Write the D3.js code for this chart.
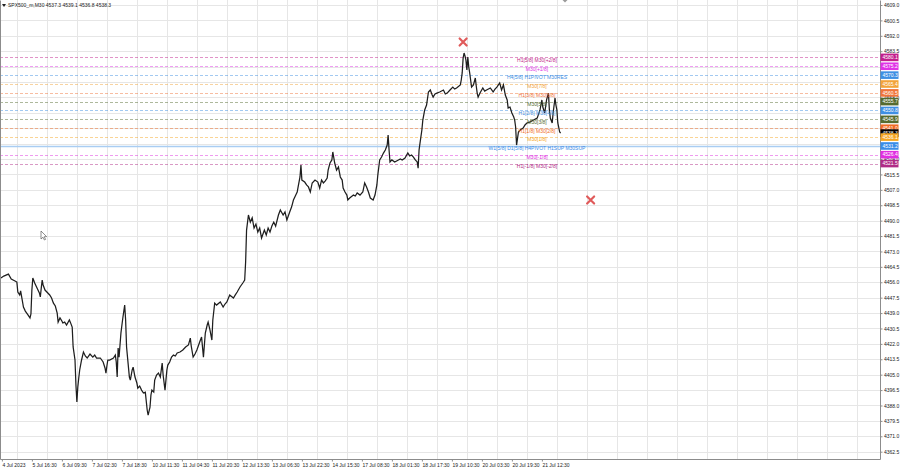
<!DOCTYPE html>
<html><head><meta charset="utf-8">
<script src="https://cdn.jsdelivr.net/npm/d3@7"></script>
<style>
body{margin:0;background:#fff;}
svg{display:block;font-family:"Liberation Sans",Arial,sans-serif;}
</style>
</head><body>
<svg id="c" width="900" height="468"></svg>
<script>
// ---------- data ----------
const chartTitle = "SPX500_m,M30  4537.3 4539.1 4536.8 4538.3";
const barNo = [1,4,9,12,16,18,19,21,22,25,27,30,32,33,34,35,37,39,42,43,44,45,46,48,51,53,55,57,59,61,62,64,66,67,69,71,74,75,77,78,80,81,82,83,84,85,87,89,91,93,96,99,101,103,107,110,112,113,114,115,117,121,123,124,125,126,127,129,131,133,134,135,138,139,141,142,144,146,147,149,151,153,155,157,158,160,161,162,164,165,167,169,171,173,174,176,177,178,179,181,183,185,187,189,192,195,198,201,203,204,206,208,210,213,215,217,219,221,222,224,226,227,229,231,235,238,240,242,245,249,251,253,256,259,261,262,263,265,267,269,271,273,275,277,279,282,284,286,288,290,292,294,297,299,302,304,306,309,311,313,315,317,318,320,321,322,325,327,329,331,333,336,339,341,343,345,347,349,350,352,354,355,357,359,361,363,365,366,368,370,371,373,377,379,381,384,387,389,391,393,395,398,400,402,403,405,407,409,411,413,414,415,416,418,421,425,427,429,432,435,437,439,441,443,445,446,447,448,450,451,453,455,457,459,461,462,464,466,469,473,475,477,480,483,485,487,491,492,493,494,495,496,497,498,499,500,501,502,503,505,507,508,509,510,512,515,517,519,523,526,528,530,533,535,537,539,541,542,544,546,548,549,550,551,553,555,558,560,562,565,569,571,573,576,578,579,581,583,585,586,587,589,590,592,593,594,595,597,598];
const closePrice = [4458.3,4459.4,4460.5,4457.8,4456.7,4456.1,4450.6,4449.0,4451.2,4442.3,4440.1,4437.9,4436.3,4438.5,4451.7,4458.3,4455.6,4453.4,4450.1,4447.9,4452.8,4457.2,4454.5,4451.7,4450.1,4449.0,4447.3,4444.5,4442.9,4439.0,4434.0,4436.3,4434.6,4433.5,4434.0,4432.4,4435.2,4434.0,4431.3,4420.3,4413.1,4399.3,4389.9,4398.2,4403.2,4407.6,4413.1,4417.5,4415.3,4414.2,4416.4,4414.7,4415.8,4414.2,4414.2,4412.0,4408.7,4405.9,4409.8,4413.1,4413.1,4414.2,4415.8,4412.0,4403.7,4419.7,4414.7,4428.0,4436.3,4443.4,4435.2,4420.3,4403.7,4402.0,4407.6,4409.2,4403.7,4400.4,4397.6,4398.7,4396.5,4394.9,4395.4,4385.5,4382.7,4387.1,4393.8,4396.5,4395.4,4402.0,4404.8,4405.9,4403.7,4411.4,4404.8,4396.5,4402.0,4407.6,4410.3,4412.0,4414.7,4415.8,4415.3,4417.0,4417.5,4418.6,4420.3,4421.4,4425.2,4420.8,4414.7,4416.4,4418.6,4423.0,4425.8,4414.7,4428.0,4432.4,4434.0,4429.6,4424.1,4435.2,4444.5,4443.4,4445.1,4442.3,4444.0,4445.1,4449.0,4447.3,4449.0,4450.6,4453.4,4455.6,4457.2,4467.2,4484.8,4493.1,4489.2,4491.5,4485.9,4488.1,4483.7,4485.9,4480.4,4484.8,4482.1,4485.9,4483.7,4487.0,4489.2,4487.0,4493.1,4495.9,4493.1,4494.8,4490.4,4494.8,4497.5,4501.4,4503.6,4505.8,4508.6,4514.1,4520.7,4512.4,4511.3,4509.7,4508.6,4505.8,4510.8,4512.4,4511.3,4508.0,4512.4,4510.8,4511.9,4513.5,4517.9,4521.8,4523.5,4527.9,4521.8,4517.9,4519.6,4514.1,4512.4,4508.0,4505.8,4504.1,4501.4,4502.5,4504.1,4503.6,4505.3,4504.1,4505.8,4510.8,4508.6,4505.8,4502.5,4501.4,4504.1,4509.7,4515.2,4523.5,4525.1,4527.3,4529.0,4531.7,4537.3,4529.0,4522.4,4523.5,4522.4,4523.5,4524.0,4523.5,4524.6,4527.3,4525.7,4526.2,4525.1,4523.5,4522.4,4519.0,4529.0,4532.8,4540.0,4545.5,4551.1,4553.8,4561.0,4562.1,4559.3,4558.2,4559.9,4560.4,4561.0,4562.1,4559.9,4560.4,4562.1,4563.7,4562.6,4563.2,4564.9,4567.6,4571.5,4579.7,4582.5,4580.9,4578.6,4573.1,4580.3,4574.8,4571.5,4567.6,4563.7,4564.9,4568.7,4564.3,4560.4,4558.2,4560.4,4563.2,4561.5,4562.1,4563.2,4561.0,4562.6,4563.7,4566.0,4562.1,4564.9,4559.3,4556.6,4552.2,4552.7,4549.4,4547.2,4545.5,4541.7,4531.7,4538.9,4540.0,4541.1,4542.8,4543.9,4544.4,4545.5,4546.1,4546.6,4551.1,4556.6,4552.7,4549.4,4556.6,4560.4,4551.1,4546.6,4543.9,4549.4,4557.7,4553.8,4551.1,4543.9,4538.9,4538.3];
const priceTicks = [4609.0,4600.5,4592.0,4583.5,4575.0,4566.5,4558.0,4549.5,4541.0,4532.5,4524.0,4515.5,4507.0,4498.5,4490.0,4481.5,4473.0,4464.5,4456.0,4447.5,4439.0,4430.5,4422.0,4413.5,4405.0,4396.5,4388.0,4379.5,4371.0,4362.5];
const timeLabels = ["4 Jul 2023","5 Jul 16:30","6 Jul 09:30","7 Jul 02:30","7 Jul 18:30","10 Jul 11:30","11 Jul 04:30","11 Jul 20:30","12 Jul 13:30","13 Jul 06:30","13 Jul 22:30","14 Jul 15:30","17 Jul 08:30","18 Jul 01:30","18 Jul 17:30","19 Jul 10:30","20 Jul 03:30","20 Jul 19:30","21 Jul 12:30"];
const levelPrices = [4580.1,4575.2,4570.3,4565.4,4560.5,4555.7,4550.8,4545.9,4541.0,4536.1,4531.2,4526.4,4521.5];
const levelNames = ["H1[5/8] M30[+2/8]","M30[+1/8]","H4[5/8] H1PIVOT M30RES","M30[7/8]","H1[3/8] M30[6/8]","M30[5/8]","H1[2/8] M30[4/8]","M30[3/8]","H1[1/8] M30[2/8]","M30[1/8]","W1[5/8] D1[5/8] H4PIVOT H1SUP M30SUP","M30[-1/8]","H1[-1/8] M30[-2/8]"];
const levelColors = ["#c21f8c","#e033e6","#3f8fe3","#f2a33a","#f0743a","#566b2f","#3f8fe3","#566b2f","#f06b24","#f5a623","#3a8ce8","#e02ee0","#b02c86"];
const lastPrice = 4538.3;
const markerBars = [494, 630];
const markerPrices = [4588.6, 4501.4];

// ---------- layout ----------
const plotR = 880, plotB = 459;
const svg = d3.select("#c");
const x = d3.scaleLinear().domain([0, 960]).range([0, 900]);
const y = d3.scaleLinear().domain([4362.5, 4609]).range([451.7, 5]);
const FS = 5;

// grid
const gridBars = d3.range(17.8, 938, 32);
svg.append("g").selectAll("line").data(gridBars).join("line")
  .attr("x1", d => Math.round(x(d)) + 0.5).attr("x2", d => Math.round(x(d)) + 0.5)
  .attr("y1", 0).attr("y2", plotB).attr("stroke", "#e6e6e6").attr("stroke-width", 1);
svg.append("g").selectAll("line").data(priceTicks).join("line")
  .attr("x1", 0).attr("x2", plotR)
  .attr("y1", d => Math.round(y(d)) + 0.5).attr("y2", d => Math.round(y(d)) + 0.5)
  .attr("stroke", "#e6e6e6").attr("stroke-width", 1);

// level lines
const lv = levelPrices.map((p, i) => ({p, name: levelNames[i], color: levelColors[i], i}));
svg.append("g").selectAll("line").data(lv).join("line")
  .attr("x1", 0).attr("x2", plotR)
  .attr("y1", d => Math.round(y(d.p)) + 0.5).attr("y2", d => Math.round(y(d.p)) + 0.5)
  .attr("stroke", d => d.i === 10 ? "#a9cdf3" : d.color)
  .attr("stroke-width", d => d.i === 10 ? 1.6 : 0.8)
  .attr("stroke-dasharray", d => d.i === 10 ? null : "3,2")
  .attr("opacity", d => d.i === 10 ? 1 : 0.6);

// price path
const pts = barNo.map((b, i) => [b, closePrice[i]]);
svg.append("path").datum(pts)
  .attr("d", d3.line().x(d => x(d[0])).y(d => y(d[1])))
  .attr("fill", "none").attr("stroke", "#1e1e1e").attr("stroke-width", 1.25)
  .attr("stroke-linejoin", "miter");

// level text labels
svg.append("g").selectAll("text").data(lv).join("text")
  .attr("x", 537).attr("y", d => y(d.p) + 2.6).attr("dy", "0.35em")
  .attr("text-anchor", "middle").attr("font-size", FS).attr("fill", d => d.color)
  .text(d => d.name);

// red markers
const mk = markerBars.map((b, i) => [x(b), y(markerPrices[i])]);
const mg = svg.append("g").selectAll("g").data(mk).join("g")
  .attr("transform", d => `translate(${d[0]},${d[1]})`);
mg.append("path").attr("d", "M-3.5,-3.5L3.5,3.5M3.5,-3.5L-3.5,3.5")
  .attr("stroke", "#e05a5a").attr("stroke-width", 2.2).attr("stroke-linecap", "round");

// frame
svg.append("path").attr("d", `M0.5,0.5V${plotB + 0.5}H${plotR + 0.5}V0.5`)
  .attr("fill", "none").attr("stroke", "#8c8c8c").attr("stroke-width", 1);

// boxes list (level labels + last price)
const boxes = lv.map(d => ({p: d.p, color: d.color}));
boxes.push({p: lastPrice, color: "#000"});
boxes.sort((a, b) => b.p - a.p);

// right axis (tick labels fully hidden under a box are left out)
const visibleTicks = priceTicks.filter(t => !boxes.some(b => Math.abs(y(b.p) - y(t)) < 3));
const ra = svg.append("g").attr("transform", `translate(${plotR + 0.5},0)`)
  .call(d3.axisRight(y).tickValues(visibleTicks).tickSize(2).tickPadding(1.5).tickFormat(d3.format(".1f")));
ra.select(".domain").remove();
ra.selectAll("text").attr("font-size", FS).attr("fill", "#222").attr("font-family", "Liberation Sans, Arial, sans-serif");
ra.selectAll("line").attr("stroke", "#8c8c8c");

// bottom axis
const labelBars = timeLabels.map((t, i) => 2 + 32 * i);
const ba = svg.append("g").attr("transform", `translate(0,${plotB + 0.5})`)
  .call(d3.axisBottom(x).tickValues(labelBars).tickSize(2).tickPadding(1.5).tickFormat((d, i) => timeLabels[i]));
ba.select(".domain").remove();
ba.selectAll("text").attr("font-size", FS).attr("fill", "#222").attr("text-anchor", "start")
  .attr("font-family", "Liberation Sans, Arial, sans-serif");
ba.selectAll("line").attr("stroke", "#8c8c8c");

// right level boxes (top to bottom so each covers the one above)
const bg = svg.append("g").selectAll("g").data(boxes).join("g")
  .attr("transform", d => `translate(${plotR + 0.5},${y(d.p)})`);
bg.append("rect").attr("x", 0).attr("y", -3.8).attr("width", 18).attr("height", 7.6)
  .attr("fill", d => d.color);
bg.append("text").attr("x", 2).attr("y", 0).attr("dy", "0.36em").attr("font-size", FS)
  .attr("fill", "#fff").text(d => d.p.toFixed(1));

// title
svg.append("path").attr("d", "M2,4L6,4L4,7Z").attr("fill", "#222");
svg.append("text").attr("x", 8).attr("y", 7.2).attr("font-size", FS).attr("fill", "#222").text(chartTitle);

// chart shift marker at top
svg.append("path").attr("d", `M${x(600)},0L${x(600) + 2.5},2.5L${x(600) + 5},0Z`).attr("fill", "#9a9a9a");

// mouse cursor
svg.append("path").attr("transform", "translate(41,231)")
  .attr("d", "M0,0L0,8L2,6.2L3.4,9L4.6,8.4L3.2,5.7L5.6,5.6Z")
  .attr("fill", "#fff").attr("stroke", "#444").attr("stroke-width", 0.6);
</script>
</body></html>
